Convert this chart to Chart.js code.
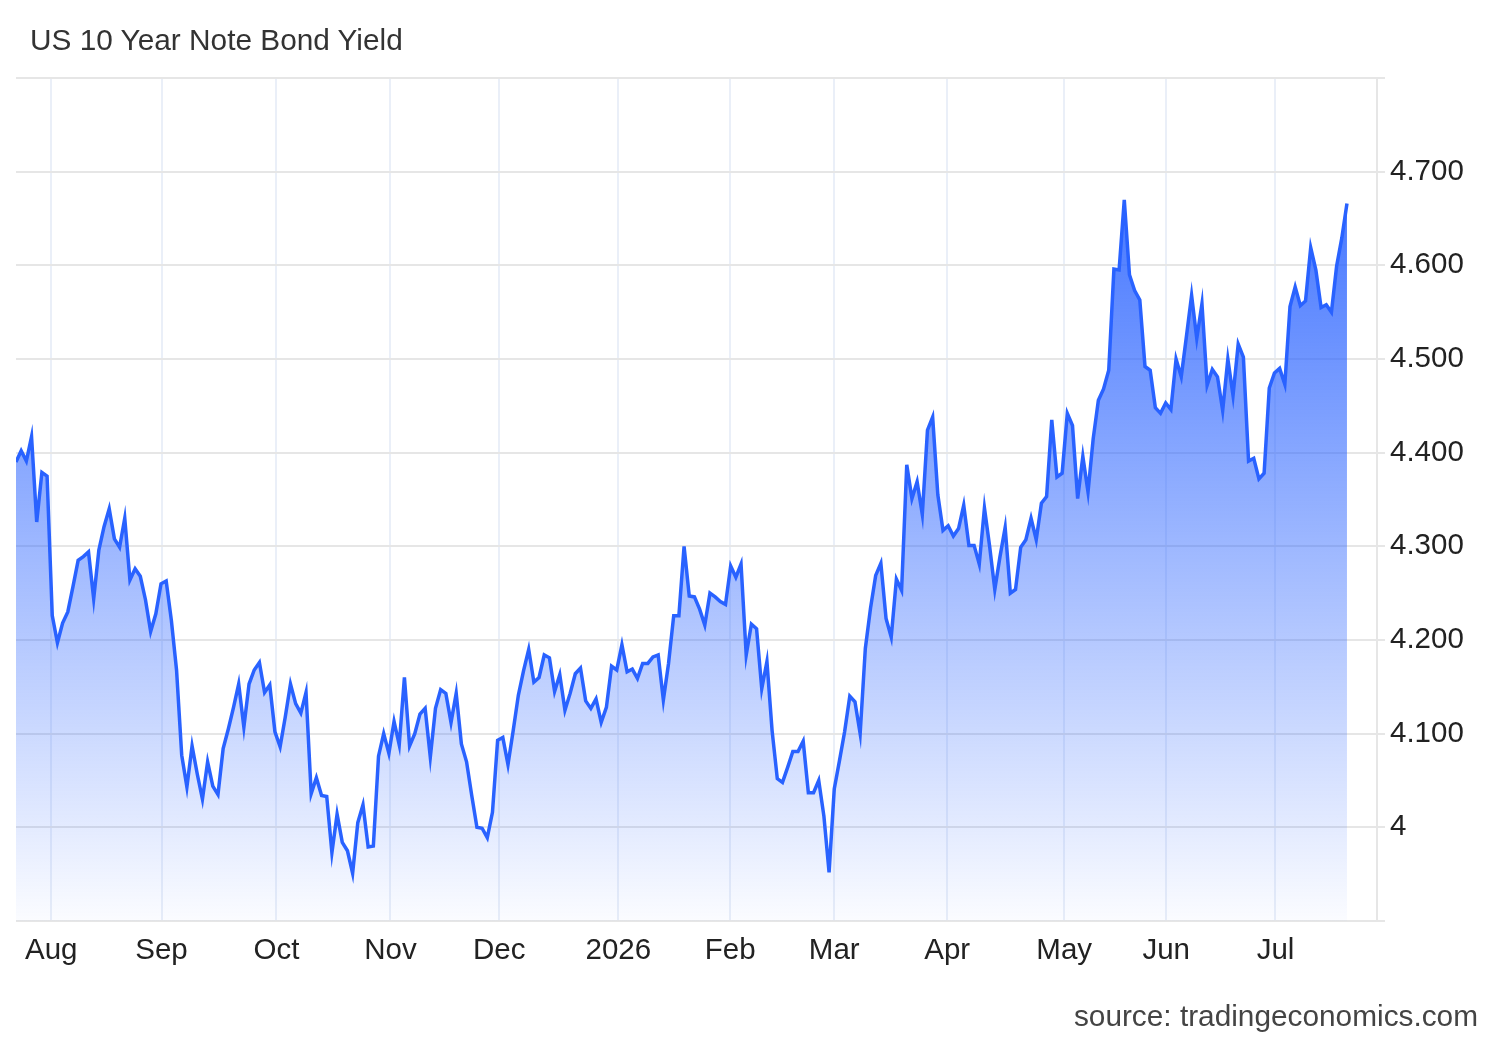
<!DOCTYPE html>
<html>
<head>
<meta charset="utf-8">
<script src="https://cdn.jsdelivr.net/npm/chart.js@4/dist/chart.umd.min.js"></script>
<style>
  html, body { margin: 0; padding: 0; background: #ffffff; }
  #wrap { position: relative; width: 1500px; height: 1040px; overflow: hidden; font-family: "Liberation Sans", Arial, sans-serif; }
  #chart { position: absolute; left: 0; top: 0; }
  #title { position: absolute; left: 30px; top: 25px; font-size: 29.8px; line-height: 29.8px; color: #333333; white-space: nowrap; }
  #source { position: absolute; right: 22px; top: 1001px; font-size: 29.8px; line-height: 29.8px; color: #444444; white-space: nowrap; }
</style>
</head>
<body>
<div id="wrap">
  <canvas id="chart" width="1500" height="1040"></canvas>
  <div id="title">US 10 Year Note Bond Yield</div>
  <div id="source">source: tradingeconomics.com</div>
</div>
<script>
// ---- data (daily closes, one value per trading day, oldest first) ----
const yieldValues = [
  4.390, 4.402, 4.391, 4.417, 4.326, 4.379, 4.375, 4.226, 4.197, 4.218,
  4.230, 4.257, 4.285, 4.289, 4.294, 4.244, 4.296, 4.321, 4.340, 4.308,
  4.299, 4.330, 4.264, 4.276, 4.268, 4.243, 4.209, 4.228, 4.260, 4.263,
  4.221, 4.168, 4.077, 4.043, 4.087, 4.057, 4.030, 4.070, 4.044, 4.035,
  4.084, 4.105, 4.128, 4.153, 4.107, 4.153, 4.168, 4.176, 4.144, 4.152,
  4.102, 4.086, 4.118, 4.153, 4.132, 4.122, 4.144, 4.036, 4.053, 4.034,
  4.033, 3.973, 4.014, 3.984, 3.975, 3.951, 4.005, 4.024, 3.979, 3.980,
  4.076, 4.100, 4.079, 4.113, 4.088, 4.160, 4.087, 4.100, 4.121, 4.127,
  4.075, 4.127, 4.147, 4.143, 4.112, 4.143, 4.089, 4.070, 4.034, 4.000,
  3.999, 3.989, 4.016, 4.093, 4.096, 4.067, 4.103, 4.141, 4.167, 4.190,
  4.155, 4.160, 4.184, 4.181, 4.145, 4.163, 4.125, 4.143, 4.164, 4.170,
  4.135, 4.127, 4.137, 4.112, 4.128, 4.172, 4.168, 4.195, 4.166, 4.169,
  4.159, 4.175, 4.175, 4.182, 4.184, 4.136, 4.175, 4.226, 4.226, 4.300,
  4.247, 4.246, 4.233, 4.216, 4.250, 4.246, 4.241, 4.238, 4.279, 4.267,
  4.281, 4.184, 4.217, 4.212, 4.148, 4.177, 4.103, 4.052, 4.048, 4.064,
  4.081, 4.081, 4.092, 4.037, 4.037, 4.050, 4.012, 3.952, 4.041, 4.071,
  4.102, 4.140, 4.134, 4.100, 4.191, 4.234, 4.269, 4.282, 4.223, 4.203,
  4.265, 4.253, 4.387, 4.351, 4.369, 4.334, 4.424, 4.438, 4.355, 4.317,
  4.322, 4.311, 4.319, 4.344, 4.301, 4.301, 4.281, 4.341, 4.300, 4.254,
  4.289, 4.320, 4.250, 4.254, 4.299, 4.307, 4.330, 4.307, 4.346, 4.353,
  4.435, 4.374, 4.378, 4.442, 4.429, 4.351, 4.396, 4.358, 4.415, 4.456,
  4.468, 4.488, 4.596, 4.595, 4.670, 4.590, 4.573, 4.563, 4.492, 4.488,
  4.448, 4.442, 4.453, 4.446, 4.500, 4.481, 4.524, 4.568, 4.522, 4.559,
  4.472, 4.489, 4.481, 4.445, 4.500, 4.461, 4.516, 4.502, 4.391, 4.394,
  4.372, 4.378, 4.469, 4.485, 4.490, 4.473, 4.556, 4.577, 4.557, 4.562,
  4.619, 4.595, 4.555, 4.558, 4.550, 4.599, 4.629, 4.666
];

// month boundaries, expressed in trading-day index units
const monthLabels = ['Aug', 'Sep', 'Oct', 'Nov', 'Dec', '2026', 'Feb', 'Mar', 'Apr', 'May', 'Jun', 'Jul'];
const monthTickIndex = [6.8, 28.1, 50.3, 72.3, 93.3, 116.3, 137.9, 158.0, 179.8, 202.4, 222.1, 243.2];

// y axis range and step
const yMin = 3.9;
const yMax = 4.8;
const yStep = 0.1;
const xMaxIndex = 262.8;

const points = yieldValues.map((v, i) => ({ x: i, y: v }));
const FONT = '"Liberation Sans", Arial, sans-serif';

new Chart(document.getElementById('chart'), {
  type: 'line',
  data: {
    datasets: [{
      data: points,
      borderColor: '#2962FF',
      borderWidth: 3.5,
      pointRadius: 0,
      pointHoverRadius: 0,
      tension: 0,
      fill: 'start',
      backgroundColor: (ctx) => {
        const chart = ctx.chart;
        const area = chart.chartArea;
        if (!area) return 'rgba(41,98,255,0.3)';
        const g = chart.ctx.createLinearGradient(0, area.top, 0, area.bottom);
        g.addColorStop(0, 'rgba(41,98,255,1)');
        g.addColorStop(1, 'rgba(41,98,255,0.02)');
        return g;
      }
    }]
  },
  options: {
    responsive: false,
    animation: false,
    devicePixelRatio: 1,
    layout: { padding: { left: 16, top: 78, right: 0, bottom: 0 } },
    plugins: {
      legend: { display: false },
      tooltip: { enabled: false },
      title: { display: false }
    },
    scales: {
      x: {
        type: 'linear',
        min: 0,
        max: xMaxIndex,
        afterFit: (s) => { s.height = 119; },
        afterBuildTicks: (s) => { s.ticks = monthTickIndex.map(v => ({ value: v })); },
        grid: { color: '#eaeff8', lineWidth: 2, drawTicks: false },
        border: { display: false },
        ticks: {
          autoSkip: false,
          maxRotation: 0,
          padding: 12,
          color: '#222222',
          font: { family: FONT, size: 29.5 },
          callback: (v, i) => monthLabels[i]
        }
      },
      y: {
        position: 'right',
        min: yMin,
        max: yMax,
        afterFit: (s) => { s.width = 123; },
        grid: { color: '#e6e6e6', lineWidth: 2, tickLength: 8, drawTicks: true },
        border: { display: true, color: '#e6e6e6', width: 2 },
        ticks: {
          stepSize: yStep,
          padding: 5,
          color: '#222222',
          font: { family: FONT, size: 29.5 },
          callback: (v) => {
            if (Math.abs(v - yMin) < 1e-6 || Math.abs(v - yMax) < 1e-6) return '';
            if (Math.abs(v - 4) < 1e-6) return '4';
            return v.toFixed(3);
          }
        }
      }
    }
  }
});
</script>
</body>
</html>
